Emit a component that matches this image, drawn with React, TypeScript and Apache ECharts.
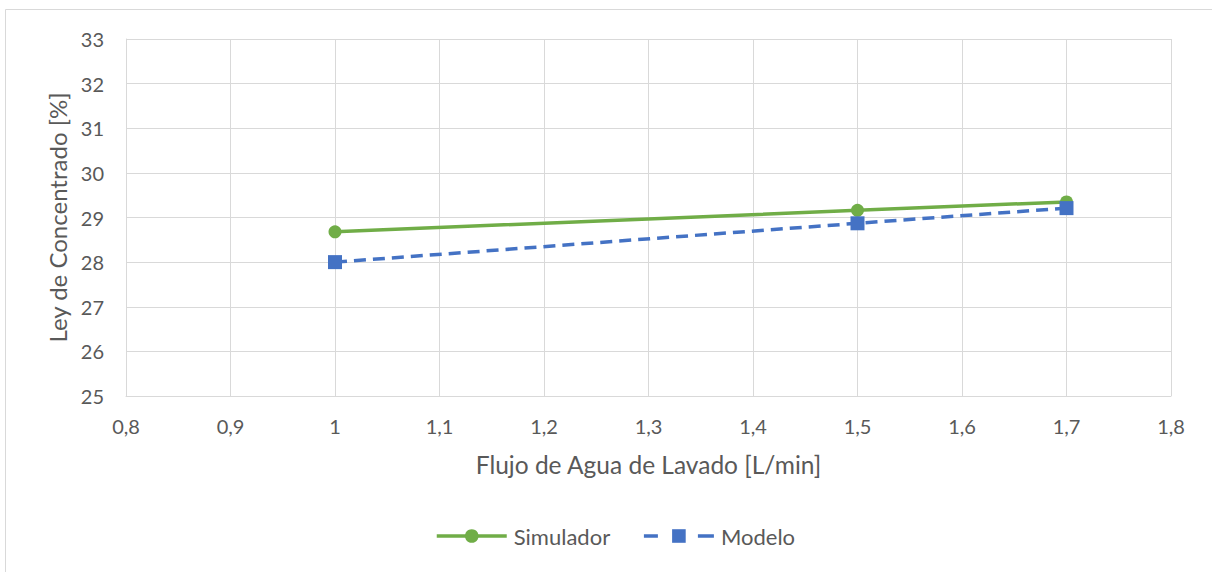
import React, { useEffect, useRef } from "react";
import * as echarts from "echarts";

const xValues = [1, 1.5, 1.7];
const simulador = [28.68, 29.16, 29.35];
const modelo = [28.0, 28.87, 29.21];
const seriesNames = ["Simulador", "Modelo"];
const xTitle = "Flujo de Agua de Lavado [L/min]";
const yTitle = "Ley de Concentrado [%]";

const FONT = "Lato, 'Noto Sans', sans-serif";
const TXT = "#595959";
const GREEN = "#70AD47";
const BLUE = "#4472C4";

export default function App() {
  const ref = useRef<HTMLDivElement>(null);
  useEffect(() => {
    if (!ref.current) return;
    const chart = echarts.init(ref.current, null, { renderer: "svg" });
    const fmt = (v: number) => Number(v.toFixed(1)).toString().replace(".", ",");
    chart.setOption({
      animation: false,
      backgroundColor: "#ffffff",
      textStyle: { fontFamily: FONT },
      graphic: [
        {
          type: "rect",
          shape: { x: 5.5, y: 9.5, width: 1210, height: 570 },
          style: { fill: "none", stroke: "#d9d9d9", lineWidth: 1 },
          silent: true,
        },
      ],
      grid: { left: 126, top: 39, right: 41, bottom: 176, containLabel: false },
      legend: {
        top: 520,
        left: 430,
        itemWidth: 70,
        itemHeight: 17,
        itemGap: 32,
        textStyle: { fontFamily: FONT, fontSize: 22, color: TXT, padding: [0, 0, 0, 2] },
        data: [
          { name: seriesNames[0], lineStyle: { width: 3.5, color: GREEN } },
          { name: seriesNames[1], lineStyle: { type: [14, 40, 16, 10], width: 3.5, color: BLUE } },
        ],
      },
      xAxis: {
        type: "value",
        min: 0.8,
        max: 1.8,
        interval: 0.1,
        name: xTitle,
        nameLocation: "middle",
        nameGap: 56,
        nameTextStyle: { fontFamily: FONT, fontSize: 24.5, color: TXT },
        axisLine: { show: true, lineStyle: { color: "#d9d9d9", width: 1 } },
        axisTick: { show: false },
        axisLabel: { formatter: fmt, fontSize: 20, color: TXT, margin: 20, fontFamily: FONT },
        splitLine: { show: true, lineStyle: { color: "#d9d9d9", width: 1 } },
      },
      yAxis: {
        type: "value",
        min: 25,
        max: 33,
        interval: 1,
        name: yTitle,
        nameLocation: "middle",
        nameGap: 56,
        nameRotate: 90,
        nameTextStyle: { fontFamily: FONT, fontSize: 24, color: TXT },
        axisLine: { show: true, lineStyle: { color: "#d9d9d9", width: 1 } },
        axisTick: { show: false },
        axisLabel: { fontSize: 20, color: TXT, margin: 22, fontFamily: FONT },
        splitLine: { show: true, lineStyle: { color: "#d9d9d9", width: 1 } },
      },
      series: [
        {
          name: seriesNames[0],
          type: "line",
          data: xValues.map((x, i) => [x, simulador[i]]),
          symbol: "circle",
          symbolSize: 13,
          itemStyle: { color: GREEN },
          lineStyle: { color: GREEN, width: 3.5 },
        },
        {
          name: seriesNames[1],
          type: "line",
          data: xValues.map((x, i) => [x, modelo[i]]),
          symbol: "rect",
          symbolSize: 14,
          itemStyle: { color: BLUE },
          lineStyle: { color: BLUE, width: 3.5, type: [12, 7] },
        },
      ],
    });
    return () => chart.dispose();
  }, []);
  return (
    <div
      ref={ref}
      style={{ position: "absolute", left: 0, top: 0, width: 1212, height: 572 }}
    />
  );
}
